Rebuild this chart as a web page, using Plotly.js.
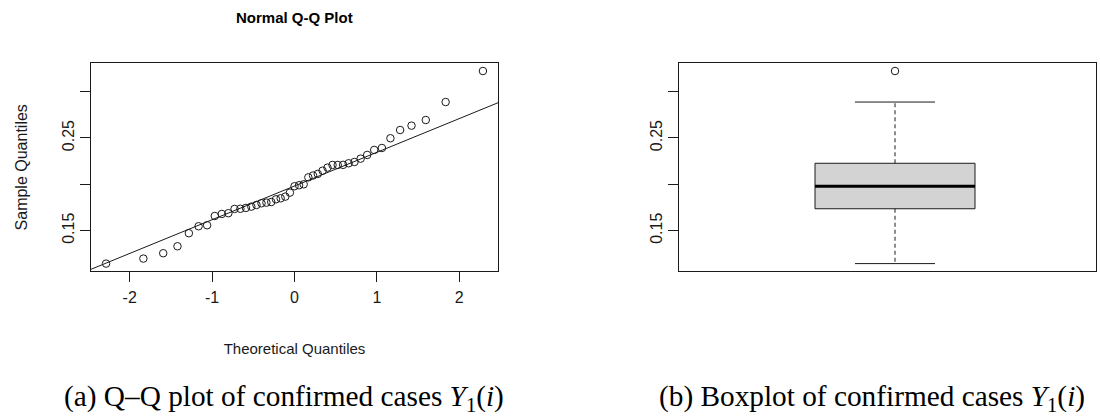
<!DOCTYPE html>
<html><head><meta charset="utf-8">
<script src="https://cdn.plot.ly/plotly-3.0.1.min.js"></script>
<style>html,body{margin:0;padding:0;background:#fff}#chart{width:1100px;height:417px}</style>
</head><body><div id="chart"></div>
<script>
// Sorted sample values of confirmed cases Y1(i)
const sampleValues = [
  0.1144,0.1198,0.1256,0.1331,0.1472,0.1547,0.1558,0.1658,0.1680,0.1688,
  0.1734,0.1736,0.1745,0.1759,0.1777,0.1795,0.1802,0.1809,0.1838,0.1849,
  0.1867,0.1910,0.1979,0.1990,0.2000,0.2075,0.2095,0.2112,0.2147,0.2180,
  0.2209,0.2209,0.2210,0.2227,0.2241,0.2277,0.2317,0.2371,0.2392,0.2497,
  0.2586,0.2633,0.2694,0.2888,0.3223
];
const xTickValues = [-2,-1,0,1,2];
const xTickLabels = ['-2','-1','0','1','2'];
const yTickValues = [0.15,0.25];
const yTickLabels = ['0.15','0.25'];
const yTickStep = 0.05;          // unlabelled ticks every 0.05
const qqTitle = 'Normal Q-Q Plot';
const xTitle = 'Theoretical Quantiles';
const yTitle = 'Sample Quantiles';
const captionA = '(a) Q\u2013Q plot of confirmed cases <i>Y</i><sub>1</sub>(<i>i</i>)';
const captionB = '(b) Boxplot of confirmed cases <i>Y</i><sub>1</sub>(<i>i</i>)';

// inverse normal CDF (Acklam)
function qnorm(p){
  const a=[-3.969683028665376e+01,2.209460984245205e+02,-2.759285104469687e+02,1.383577518672690e+02,-3.066479806614716e+01,2.506628277459239e+00];
  const b=[-5.447609879822406e+01,1.615858368580409e+02,-1.556989798598866e+02,6.680131188771972e+01,-1.328068155288572e+01];
  const c=[-7.784894002430293e-03,-3.223964580411365e-01,-2.400758277161838e+00,-2.549732539343734e+00,4.374664141464968e+00,2.938163982698783e+00];
  const d=[7.784695709041462e-03,3.224671290700398e-01,2.445134137142996e+00,3.754408661907416e+00];
  const pl=0.02425, ph=1-pl; let q,r;
  if(p<pl){q=Math.sqrt(-2*Math.log(p));return (((((c[0]*q+c[1])*q+c[2])*q+c[3])*q+c[4])*q+c[5])/((((d[0]*q+d[1])*q+d[2])*q+d[3])*q+1);}
  if(p<=ph){q=p-0.5;r=q*q;return (((((a[0]*r+a[1])*r+a[2])*r+a[3])*r+a[4])*r+a[5])*q/(((((b[0]*r+b[1])*r+b[2])*r+b[3])*r+b[4])*r+1);}
  q=Math.sqrt(-2*Math.log(1-p));return -(((((c[0]*q+c[1])*q+c[2])*q+c[3])*q+c[4])*q+c[5])/((((d[0]*q+d[1])*q+d[2])*q+d[3])*q+1);
}
const sorted = sampleValues.slice().sort((a,b)=>a-b);
const n = sorted.length;
const theo = sorted.map((_,i)=>qnorm((i+0.5)/n));
function quantile7(s,p){const h=(s.length-1)*p,lo=Math.floor(h),hi=Math.min(lo+1,s.length-1);return s[lo]+(h-lo)*(s[hi]-s[lo]);}
const qy1=quantile7(sorted,0.25), qy3=quantile7(sorted,0.75);
const slope=(qy3-qy1)/(qnorm(0.75)-qnorm(0.25));
const intercept=qy1-slope*qnorm(0.25);
function rRange(a){const lo=Math.min(...a),hi=Math.max(...a),d=(hi-lo)*0.04;return [lo-d,hi+d];}
const xr=rRange(theo), yr=rRange(sorted);
const lineX=[xr[0]-1,xr[1]+1];
const lineY=lineX.map(x=>intercept+slope*x);

// Tukey five-number summary and whiskers
function fivenum(s){const m=s.length,n4=Math.floor((m+3)/2)/2;const d=[1,n4,(m+1)/2,m+1-n4,m];return d.map(v=>0.5*(s[Math.floor(v)-1]+s[Math.ceil(v)-1]));}
const fn=fivenum(sorted);
const iqr=fn[3]-fn[1];
const inside=sorted.filter(v=>v>=fn[1]-1.5*iqr && v<=fn[3]+1.5*iqr);
const outliers=sorted.filter(v=>v<fn[1]-1.5*iqr || v>fn[3]+1.5*iqr);
const wLo=Math.min(...inside), wHi=Math.max(...inside);

const BX=1, HALF=0.2, STAPLE=0.1;
const FONT='Liberation Sans, Arial, sans-serif';
const INK='#1a1a1a';

const traces=[
  {type:'scatter',mode:'markers',x:theo,y:sorted,xaxis:'x',yaxis:'y',
   marker:{symbol:'circle-open',size:7.5,color:INK,line:{width:1,color:INK}},hoverinfo:'skip'},
  {type:'scatter',mode:'lines',x:lineX,y:lineY,xaxis:'x',yaxis:'y',line:{color:INK,width:1},hoverinfo:'skip'},
  {type:'box',x:[BX],q1:[fn[1]],median:[fn[2]],q3:[fn[3]],lowerfence:[fn[1]],upperfence:[fn[3]],
   width:2*HALF,whiskerwidth:0,fillcolor:'#d3d3d3',line:{color:INK,width:1},boxpoints:false,xaxis:'x2',yaxis:'y2',hoverinfo:'skip'},
  {type:'scatter',mode:'lines',x:[BX-HALF,BX+HALF],y:[fn[2],fn[2]],xaxis:'x2',yaxis:'y2',line:{color:'#000',width:3},hoverinfo:'skip'},
  {type:'scatter',mode:'lines',x:[BX,BX],y:[fn[3],wHi],xaxis:'x2',yaxis:'y2',line:{color:INK,width:1,dash:'4px,3px'},hoverinfo:'skip'},
  {type:'scatter',mode:'lines',x:[BX,BX],y:[fn[1],wLo],xaxis:'x2',yaxis:'y2',line:{color:INK,width:1,dash:'4px,3px'},hoverinfo:'skip'},
  {type:'scatter',mode:'lines',x:[BX-STAPLE,BX+STAPLE],y:[wHi,wHi],xaxis:'x2',yaxis:'y2',line:{color:INK,width:1},hoverinfo:'skip'},
  {type:'scatter',mode:'lines',x:[BX-STAPLE,BX+STAPLE],y:[wLo,wLo],xaxis:'x2',yaxis:'y2',line:{color:INK,width:1},hoverinfo:'skip'},
  {type:'scatter',mode:'markers',x:outliers.map(()=>BX),y:outliers,xaxis:'x2',yaxis:'y2',
   marker:{symbol:'circle-open',size:7.5,color:INK,line:{width:1,color:INK}},hoverinfo:'skip'}
];

const W=1100,H=417;
const yDom=[1-271.3/H,1-63.3/H];
const tickFont={family:FONT,size:16,color:INK};
const axisCommon={showgrid:false,zeroline:false,showline:true,linecolor:INK,linewidth:1,
  ticks:'outside',ticklen:10,tickwidth:1,tickcolor:INK,tickfont:tickFont};
const yMinor={tick0:yTickValues[0],dtick:yTickStep,ticks:'outside',ticklen:10,tickwidth:1,tickcolor:INK,showgrid:false};

const layout={
  width:W,height:H,margin:{l:0,r:0,t:0,b:0},paper_bgcolor:'#fff',plot_bgcolor:'#fff',showlegend:false,
  xaxis:Object.assign({},axisCommon,{domain:[91/W,498/W],range:xr,tickvals:xTickValues,ticktext:xTickLabels,
    mirror:true,anchor:'y',ticklabelstandoff:1,
    title:{text:xTitle,font:{family:FONT,size:15,color:INK},standoff:38}}),
  yaxis:Object.assign({},axisCommon,{domain:yDom,range:yr,tickvals:yTickValues,ticktext:yTickLabels,minor:yMinor,
    tickangle:-90,mirror:true,anchor:'x',ticklabelstandoff:0,
    title:{text:yTitle,font:{family:FONT,size:16,color:INK},standoff:27}}),
  xaxis2:Object.assign({},axisCommon,{domain:[679/W,1096/W],range:[0.46,0.46+(1096-679)/400],
    showticklabels:false,ticks:'',mirror:true,anchor:'y2'}),
  yaxis2:Object.assign({},axisCommon,{domain:yDom,range:yr,tickvals:yTickValues,ticktext:yTickLabels,minor:yMinor,
    tickangle:-90,mirror:true,anchor:'x2',ticklabelstandoff:0}),
  annotations:[
    {text:'<b>'+qqTitle+'</b>',xref:'paper',yref:'paper',x:294.5/W,y:1-18/H,xanchor:'center',yanchor:'middle',showarrow:false,
     font:{family:FONT,size:15,color:'#000'}},
    {text:captionA,xref:'paper',yref:'paper',x:284/W,y:1-398/H,xanchor:'center',yanchor:'middle',showarrow:false,
     font:{family:'Liberation Serif, Times New Roman, serif',size:29.3,color:'#000'}},
    {text:captionB,xref:'paper',yref:'paper',x:872/W,y:1-398/H,xanchor:'center',yanchor:'middle',showarrow:false,
     font:{family:'Liberation Serif, Times New Roman, serif',size:29.3,color:'#000'}}
  ]
};
Plotly.newPlot('chart',traces,layout,{displayModeBar:false,staticPlot:true});
</script></body></html>
